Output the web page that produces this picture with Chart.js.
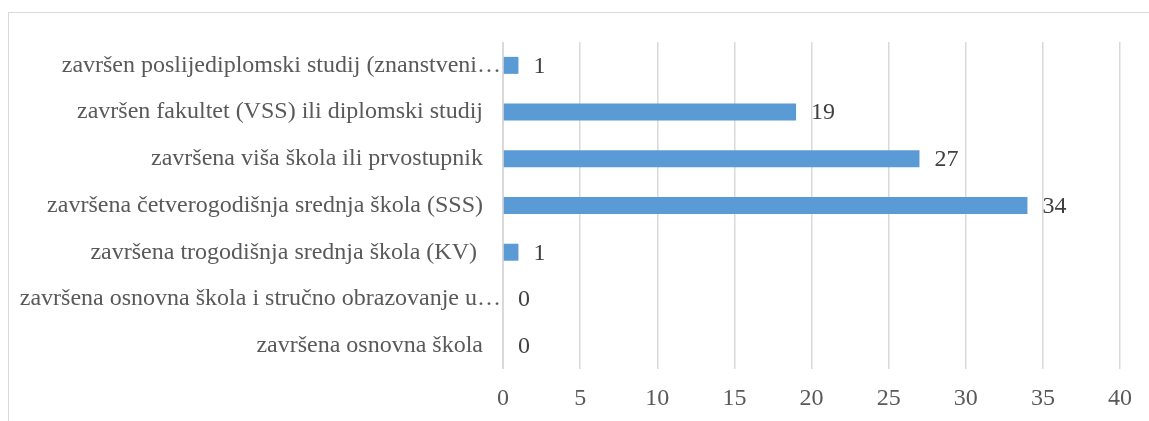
<!DOCTYPE html>
<html lang="hr">
<head>
  <meta charset="UTF-8" />
  <title>Stručna sprema</title>
  <script src="https://cdn.jsdelivr.net/npm/chart.js"></script>
  <style>
    body { margin: 0; background: #fff; }
    .frame { position: absolute; left: 8px; top: 12px; width: 1160px; height: 440px; border: 1px solid #d9d9d9; }
    .wrap { position: absolute; left: 0; top: 0; width: 1149px; height: 421px; }
  </style>
</head>
<body>
  <div class="frame"></div>
  <div class="wrap"><canvas id="eduChart" width="1149" height="421"></canvas></div>

  <script>
// === Data ===
const categories = [
  "završen poslijediplomski studij (znanstveni…",
  "završen fakultet (VSS) ili diplomski studij",
  "završena viša škola ili prvostupnik",
  "završena četverogodišnja srednja škola (SSS)",
  "završena trogodišnja srednja škola (KV) ",
  "završena osnovna škola i stručno obrazovanje u…",
  "završena osnovna škola"
];
const counts = [1, 19, 27, 34, 1, 0, 0];
const xTicks = [0, 5, 10, 15, 20, 25, 30, 35, 40];

const serif = "'Liberation Serif', 'Times New Roman', serif";

// === Zero line (vertical axis line at x = 0) ===
const zeroLine = {
  id: "zeroLine",
  beforeDatasetsDraw(chart) {
    const ctx = chart.ctx;
    const area = chart.chartArea;
    const x = chart.scales.x.getPixelForValue(0);
    ctx.save();
    ctx.strokeStyle = "#d9d9d9";
    ctx.lineWidth = 2;
    ctx.beginPath();
    ctx.moveTo(x, area.top);
    ctx.lineTo(x, area.bottom);
    ctx.stroke();
    ctx.restore();
  }
};

// === Value labels next to the bars ===
const valueLabels = {
  id: "valueLabels",
  afterDatasetsDraw(chart) {
    const ctx = chart.ctx;
    const meta = chart.getDatasetMeta(0);
    ctx.save();
    ctx.font = "24px " + serif;
    ctx.fillStyle = "#404040";
    ctx.textAlign = "left";
    ctx.textBaseline = "middle";
    meta.data.forEach((bar, i) => {
      ctx.fillText(String(counts[i]), bar.x + 15, bar.y + 1);
    });
    ctx.restore();
  }
};

const ctx = document.getElementById("eduChart").getContext("2d");
new Chart(ctx, {
  type: "bar",
  data: {
    labels: categories,
    datasets: [{
      data: counts,
      backgroundColor: "#5b9bd5",
      barThickness: 17,
      inflateAmount: 0
    }]
  },
  options: {
    indexAxis: "y",
    responsive: false,
    animation: false,
    layout: { padding: { top: 42, right: 29, left: 0, bottom: 0 } },
    plugins: {
      legend: { display: false },
      tooltip: { enabled: false }
    },
    scales: {
      x: {
        min: 0,
        max: 40,
        afterBuildTicks: scale => { scale.ticks = xTicks.map(v => ({ value: v })); },
        afterFit: scale => { scale.height = 52; },
        grid: { color: "#d9d9d9", lineWidth: 1.5, drawTicks: false },
        border: { display: false },
        ticks: {
          padding: 15,
          color: "#595959",
          font: { family: serif, size: 24 }
        }
      },
      y: {
        afterFit: scale => { scale.width = 503; },
        grid: { display: false, drawTicks: false },
        border: { display: false },
        ticks: {
          padding: 2,
          color: "#595959",
          font: { family: serif, size: 24 },
          // Excel-style: truncated labels reach the axis, full ones sit a bit further left
          callback: function (value) {
            const lbl = this.getLabelForValue(value);
            return lbl.endsWith("…") ? lbl : lbl + "   ";
          }
        }
      }
    }
  },
  plugins: [zeroLine, valueLabels]
});
  </script>
</body>
</html>
